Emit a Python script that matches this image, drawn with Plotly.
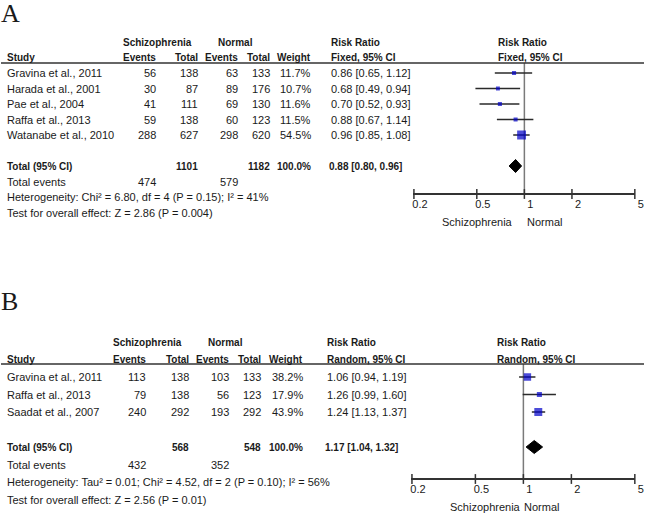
import math
import plotly.graph_objects as go

W, H = 652, 517

# ---------------- Data: panel A ----------------
studies_a = ["Gravina et al., 2011", "Harada et al., 2001", "Pae et al., 2004",
             "Raffa et al., 2013", "Watanabe et al., 2010"]
ev_s_a = [56, 30, 41, 59, 288]
tot_s_a = [138, 87, 111, 138, 627]
ev_n_a = [63, 89, 69, 60, 298]
tot_n_a = [133, 176, 130, 123, 620]
weight_a = [11.7, 10.7, 11.6, 11.5, 54.5]
rr_a = [0.86, 0.68, 0.70, 0.88, 0.96]
lo_a = [0.65, 0.49, 0.52, 0.67, 0.85]
hi_a = [1.12, 0.94, 0.93, 1.14, 1.08]
total_a = {"tot_s": 1101, "tot_n": 1182, "ev_s": 474, "ev_n": 579,
           "rr": 0.88, "lo": 0.80, "hi": 0.96}
het_a = "Heterogeneity: Chi² = 6.80, df = 4 (P = 0.15); I² = 41%"
test_a = "Test for overall effect: Z = 2.86 (P = 0.004)"
method_a = "Fixed, 95% CI"

# ---------------- Data: panel B ----------------
studies_b = ["Gravina et al., 2011", "Raffa et al., 2013", "Saadat et al., 2007"]
ev_s_b = [113, 79, 240]
tot_s_b = [138, 138, 292]
ev_n_b = [103, 56, 193]
tot_n_b = [133, 123, 292]
weight_b = [38.2, 17.9, 43.9]
rr_b = [1.06, 1.26, 1.24]
lo_b = [0.94, 0.99, 1.13]
hi_b = [1.19, 1.60, 1.37]
total_b = {"tot_s": 568, "tot_n": 548, "ev_s": 432, "ev_n": 352,
           "rr": 1.17, "lo": 1.04, "hi": 1.32}
het_b = "Heterogeneity: Tau² = 0.01; Chi² = 4.52, df = 2 (P = 0.10); I² = 56%"
test_b = "Test for overall effect: Z = 2.56 (P = 0.01)"
method_b = "Random, 95% CI"

tick_vals = [0.2, 0.5, 1, 2, 5]
tick_text = ["0.2", "0.5", "1", "2", "5"]

FONT = "Liberation Sans, Arial, sans-serif"
TXT = "#1a1a1a"
REG = 11
BLD = 10
LSHIFT = -3  # left-anchored text offset correction (px)

fig = go.Figure()
annotations = []
shapes = []

panels = [
    dict(name="A", studies=studies_a, ev_s=ev_s_a, tot_s=tot_s_a, ev_n=ev_n_a, tot_n=tot_n_a,
         w=weight_a, rr=rr_a, lo=lo_a, hi=hi_a, tot=total_a, het=het_a, test=test_a,
         method=method_a, xa="x", ya="y",
         y0=73, dy=15.5, ptop=0, pbot=258,
         cols=dict(study=8, evs=158, tots=201, evn=241, totn=274, wt=315, schc=159, norc=238,
                   rrtxt=337, rrhead=506),
         xpx=(418.7, 642.7), axis_py=194, line_py=63, letter_py=13,
         sch_r=520, nor_l=535, lab_py=222, total_row=6),
    dict(name="B", studies=studies_b, ev_s=ev_s_b, tot_s=tot_s_b, ev_n=ev_n_b, tot_n=tot_n_b,
         w=weight_b, rr=rr_b, lo=lo_b, hi=hi_b, tot=total_b, het=het_b, test=test_b,
         method=method_b, xa="x2", ya="y2",
         y0=377, dy=17.5, ptop=260, pbot=517,
         cols=dict(study=8, evs=148, tots=192, evn=232, totn=265, wt=307, schc=149, norc=228,
                   rrtxt=333, rrhead=505),
         xpx=(416.7, 642.7), axis_py=479, line_py=364, letter_py=301,
         sch_r=528, nor_l=532, lab_py=507, total_row=4),
]

layout_axes = {}
EPS = 0.004  # small log-range padding so the end tick labels are kept
for i, p in enumerate(panels):
    def row(py, p=p):
        return (py - p["y0"]) / p["dy"]
    xa, ya = p["xa"], p["ya"]
    c = p["cols"]

    def ann(text, xpix, r, anchor="left", bold=False, size=None, family=FONT):
        if size is None:
            size = BLD if bold else REG
        if anchor == "left":
            xpix = xpix + LSHIFT
        annotations.append(dict(
            text=("<b>%s</b>" % text) if bold else text,
            x=xpix / W, xref="paper", xanchor=anchor,
            y=r, yref=ya, yanchor="middle", showarrow=False, borderpad=0,
            font=dict(family=family, size=size, color=TXT)))

    # Panel letter
    ann(p["name"], 2, row(p["letter_py"]), size=26,
        family="Liberation Serif, Times New Roman, serif")

    # Headers
    ann("Schizophrenia", c["schc"], -2, anchor="center", bold=True)
    ann("Normal", c["norc"], -2, anchor="center", bold=True)
    ann("Risk Ratio", c["rrtxt"], -2, bold=True)
    ann("Risk Ratio", c["rrhead"], -2, bold=True)
    ann("Study", c["study"], -1, bold=True)
    ann("Events", c["evs"], -1, anchor="right", bold=True)
    ann("Total", c["tots"], -1, anchor="right", bold=True)
    ann("Events", c["evn"], -1, anchor="right", bold=True)
    ann("Total", c["totn"], -1, anchor="right", bold=True)
    ann("Weight", c["wt"], -1, anchor="right", bold=True)
    ann(p["method"], c["rrtxt"], -1, bold=True)
    ann(p["method"], c["rrhead"], -1, bold=True)

    # Study rows
    for k, s in enumerate(p["studies"]):
        ann(s, c["study"], k)
        ann(str(p["ev_s"][k]), c["evs"], k, anchor="right")
        ann(str(p["tot_s"][k]), c["tots"], k, anchor="right")
        ann(str(p["ev_n"][k]), c["evn"], k, anchor="right")
        ann(str(p["tot_n"][k]), c["totn"], k, anchor="right")
        ann("%.1f%%" % p["w"][k], c["wt"], k, anchor="right")
        ann("%.2f [%.2f, %.2f]" % (p["rr"][k], p["lo"][k], p["hi"][k]), c["rrtxt"], k)

    t = p["tot"]
    tr = p["total_row"]
    ann("Total (95% CI)", c["study"], tr, bold=True)
    ann(str(t["tot_s"]), c["tots"], tr, anchor="right", bold=True)
    ann(str(t["tot_n"]), c["totn"], tr, anchor="right", bold=True)
    ann("100.0%", c["wt"], tr, anchor="right", bold=True)
    ann("%.2f [%.2f, %.2f]" % (t["rr"], t["lo"], t["hi"]), c["rrtxt"] - 2, tr, bold=True)
    ann("Total events", c["study"], tr + 1)
    ann(str(t["ev_s"]), c["evs"], tr + 1, anchor="right")
    ann(str(t["ev_n"]), c["evn"], tr + 1, anchor="right")
    ann(p["het"], c["study"], tr + 2)
    ann(p["test"], c["study"], tr + 3)

    # Labels under axis
    ann("Schizophrenia", p["sch_r"], row(p["lab_py"]), anchor="right")
    ann("Normal", p["nor_l"], row(p["lab_py"]))

    # Header rule
    shapes.append(dict(type="line", xref="paper", x0=0, x1=1, yref=ya,
                       y0=row(p["line_py"]), y1=row(p["line_py"]),
                       line=dict(color="#333333", width=1.5)))

    axis_r = row(p["axis_py"])
    # vertical null line
    fig.add_trace(go.Scatter(x=[1, 1], y=[row(p["line_py"]), axis_r], xaxis=xa, yaxis=ya,
                             mode="lines", line=dict(color="#7a7a7a", width=1.5),
                             hoverinfo="skip", showlegend=False, cliponaxis=False))
    # CI lines
    cx, cy = [], []
    for k in range(len(p["rr"])):
        cx += [p["lo"][k], p["hi"][k], None]
        cy += [k, k, None]
    fig.add_trace(go.Scatter(x=cx, y=cy, xaxis=xa, yaxis=ya, mode="lines",
                             line=dict(color="#2a2a2a", width=1.5),
                             hoverinfo="skip", showlegend=False))
    # squares
    fig.add_trace(go.Scatter(x=p["rr"], y=list(range(len(p["rr"]))), xaxis=xa, yaxis=ya,
                             mode="markers",
                             marker=dict(symbol="square", color="#0000c8",
                                         size=[1.2 * math.sqrt(w) for w in p["w"]],
                                         line=dict(width=0)),
                             showlegend=False))
    # diamond
    dh = 6.5 / p["dy"]
    fig.add_trace(go.Scatter(x=[t["lo"], t["rr"], t["hi"], t["rr"], t["lo"]],
                             y=[tr, tr - dh, tr, tr + dh, tr], xaxis=xa, yaxis=ya,
                             mode="lines", fill="toself", fillcolor="black",
                             line=dict(color="black", width=1), showlegend=False,
                             hoverinfo="skip"))
    # tick marks crossing the axis
    fig.add_trace(go.Scatter(x=tick_vals, y=[axis_r] * len(tick_vals), xaxis=xa, yaxis=ya,
                             mode="markers",
                             marker=dict(symbol="line-ns", size=7,
                                         line=dict(color="#333333", width=1.5)),
                             hoverinfo="skip", showlegend=False, cliponaxis=False))

    key = "" if i == 0 else "2"
    lo_l, hi_l = math.log10(min(tick_vals)), math.log10(max(tick_vals))
    ppd = (p["xpx"][1] - p["xpx"][0]) / (hi_l - lo_l)
    layout_axes["xaxis" + key] = dict(
        type="log", range=[lo_l - EPS, hi_l + EPS],
        domain=[(p["xpx"][0] - EPS * ppd) / W, (p["xpx"][1] + EPS * ppd) / W],
        anchor="free", position=(H - p["axis_py"]) / H,
        showline=True, linecolor="#333333", linewidth=1.5,
        showgrid=False, zeroline=False, ticks="",
        tickvals=tick_vals, ticktext=tick_text, ticklabelshift=6,
        tickfont=dict(family=FONT, size=REG, color=TXT), fixedrange=True)
    layout_axes["yaxis" + key] = dict(
        domain=[(H - p["pbot"]) / H, (H - p["ptop"]) / H],
        range=[row(p["pbot"]), row(p["ptop"])],
        visible=False, showgrid=False, zeroline=False, fixedrange=True,
        anchor="x" + key)

fig.update_layout(
    width=W, height=H, margin=dict(l=0, r=0, t=0, b=0),
    paper_bgcolor="white", plot_bgcolor="white",
    annotations=annotations, shapes=shapes, showlegend=False,
    **layout_axes)

fig.write_html("out.html", config={"displayModeBar": False},
               post_script="document.body.style.margin='0';document.body.style.padding='0';")
